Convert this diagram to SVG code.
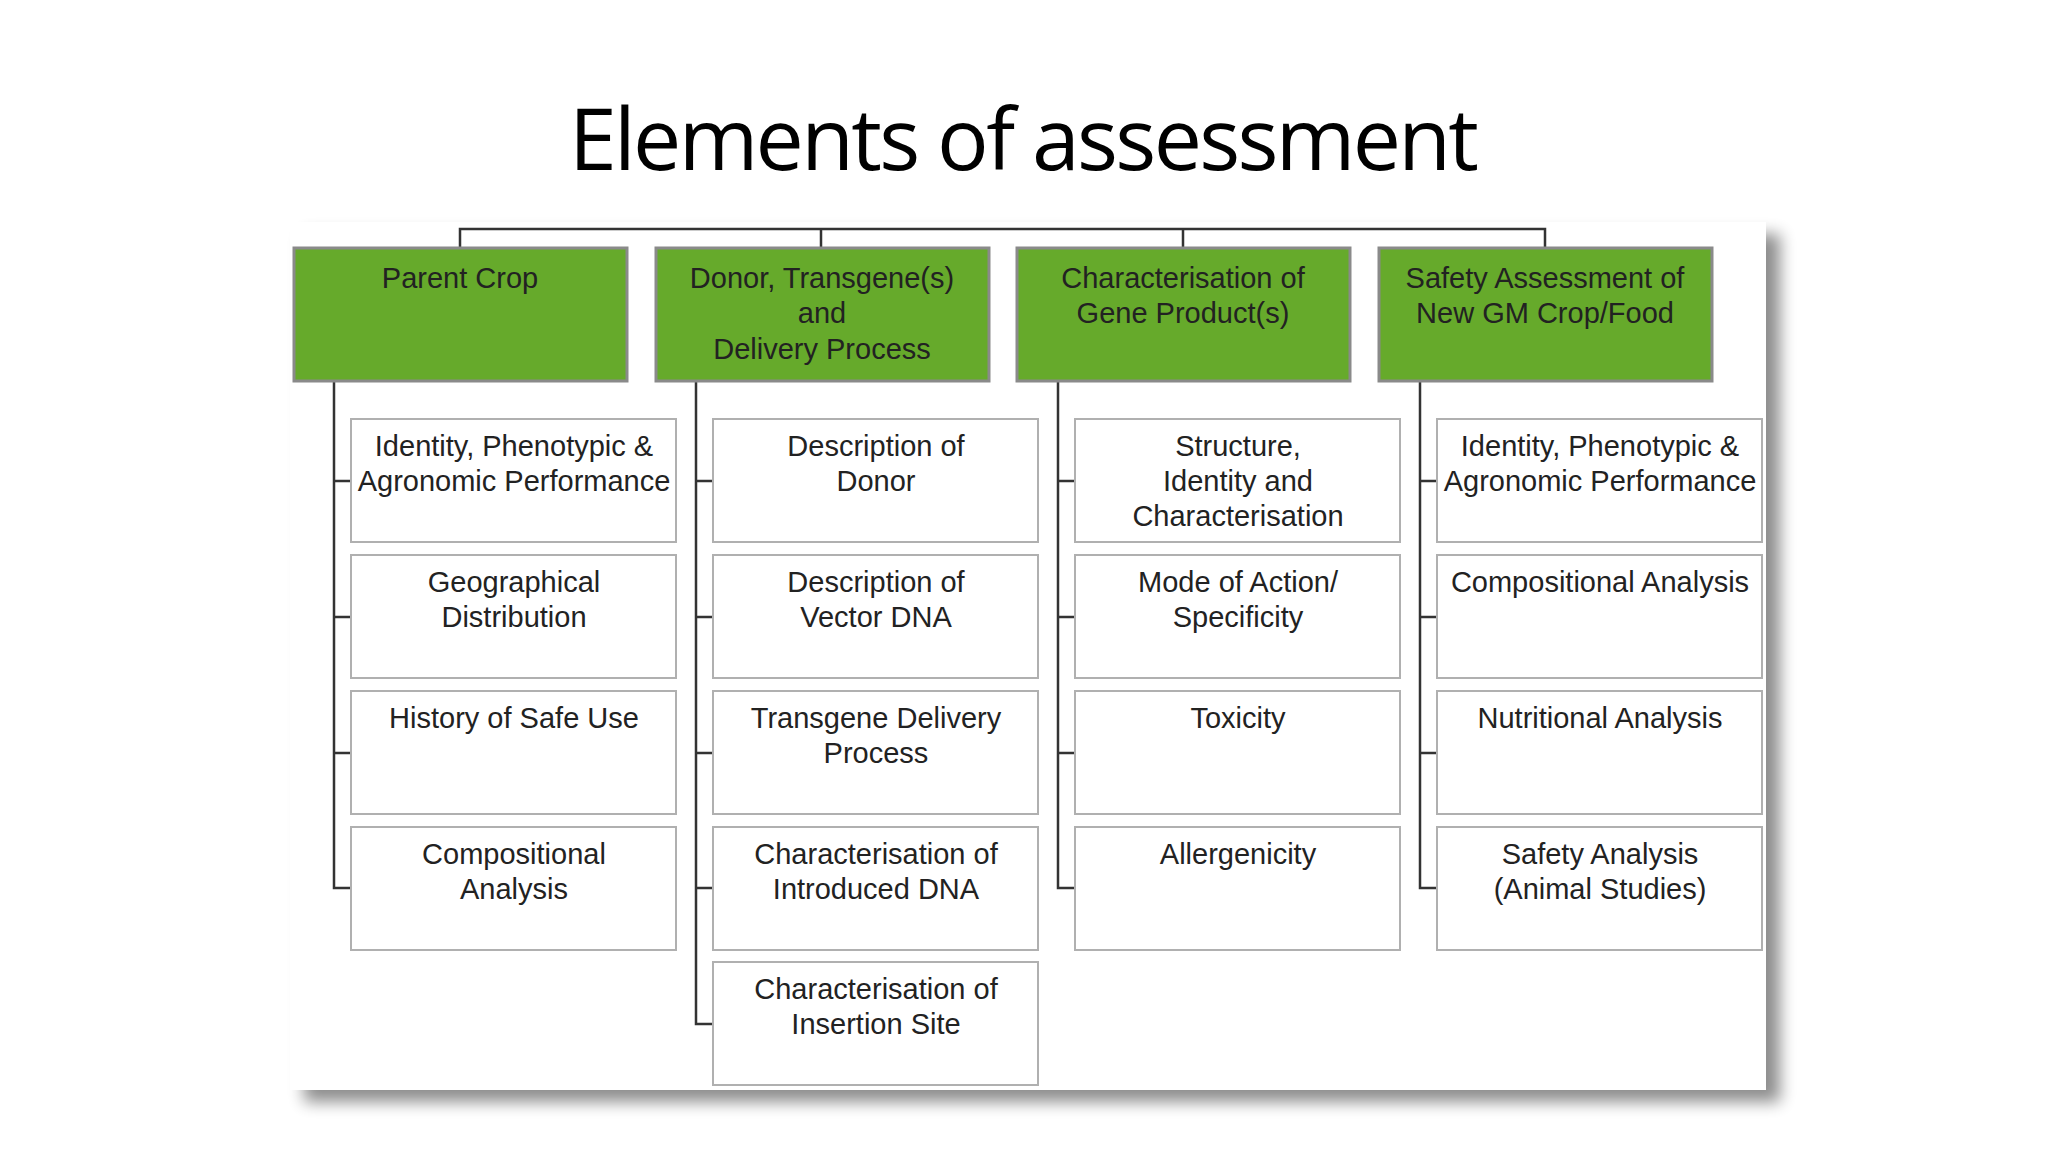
<svg xmlns="http://www.w3.org/2000/svg" width="2048" height="1152" viewBox="0 0 2048 1152">
<defs>
<filter id="sh" x="-5%" y="-5%" width="115%" height="115%"><feGaussianBlur in="SourceAlpha" stdDeviation="8"/><feOffset dx="14" dy="12"/><feComponentTransfer><feFuncA type="linear" slope="0.45"/></feComponentTransfer><feMerge><feMergeNode/><feMergeNode in="SourceGraphic"/></feMerge></filter>
</defs>
<style>
.g{fill:#66aa2b;stroke:#8a8a8a;stroke-width:3}
.c{fill:#fff;stroke:#b0b0b0;stroke-width:2}
.t{font-family:"Liberation Sans",Arial,sans-serif;font-size:29px;fill:#222;text-anchor:middle}
.l{stroke:#333;stroke-width:2.5;fill:none}
</style>
<rect width="2048" height="1152" fill="#fff"/>
<text x="1024" y="170" font-family="'Open Sans','Noto Sans',sans-serif" font-size="86" text-anchor="middle" fill="#000" textLength="910">Elements of assessment</text>
<rect x="290" y="222" width="1476" height="868" fill="#fff" filter="url(#sh)"/>
<g id="connectors" class="l">
<path d="M460 248V229H1545V248M821 229V248M1183 229V248"/>
<path d="M334 381V888H351M334 481H351M334 617H351M334 753H351"/>
<path d="M696 381V1024H713M696 481H713M696 617H713M696 753H713M696 888H713"/>
<path d="M1058 381V888H1075M1058 481H1075M1058 617H1075M1058 753H1075"/>
<path d="M1420 381V888H1437M1420 481H1437M1420 617H1437M1420 753H1437"/>
</g>
<g id="h1"><rect class="g" x="294" y="248" width="333" height="133"/><text class="t" x="460" y="288">Parent Crop</text></g>
<g id="h2"><rect class="g" x="656" y="248" width="333" height="133"/><text class="t" x="822" y="288">Donor, Transgene(s)</text><text class="t" x="822" y="323">and</text><text class="t" x="822" y="359">Delivery Process</text></g>
<g id="h3"><rect class="g" x="1017" y="248" width="333" height="133"/><text class="t" x="1183" y="288">Characterisation of</text><text class="t" x="1183" y="323">Gene Product(s)</text></g>
<g id="h4"><rect class="g" x="1379" y="248" width="333" height="133"/><text class="t" x="1545" y="288">Safety Assessment of</text><text class="t" x="1545" y="323">New GM Crop/Food</text></g>
<g id="a1"><rect class="c" x="351" y="419" width="325" height="123"/><text class="t" x="514" y="456">Identity, Phenotypic &amp;</text><text class="t" x="514" y="491">Agronomic Performance</text></g>
<g id="a2"><rect class="c" x="351" y="555" width="325" height="123"/><text class="t" x="514" y="592">Geographical</text><text class="t" x="514" y="627">Distribution</text></g>
<g id="a3"><rect class="c" x="351" y="691" width="325" height="123"/><text class="t" x="514" y="728">History of Safe Use</text></g>
<g id="a4"><rect class="c" x="351" y="827" width="325" height="123"/><text class="t" x="514" y="864">Compositional</text><text class="t" x="514" y="899">Analysis</text></g>
<g id="b1"><rect class="c" x="713" y="419" width="325" height="123"/><text class="t" x="876" y="456">Description of</text><text class="t" x="876" y="491">Donor</text></g>
<g id="b2"><rect class="c" x="713" y="555" width="325" height="123"/><text class="t" x="876" y="592">Description of</text><text class="t" x="876" y="627">Vector DNA</text></g>
<g id="b3"><rect class="c" x="713" y="691" width="325" height="123"/><text class="t" x="876" y="728">Transgene Delivery</text><text class="t" x="876" y="763">Process</text></g>
<g id="b4"><rect class="c" x="713" y="827" width="325" height="123"/><text class="t" x="876" y="864">Characterisation of</text><text class="t" x="876" y="899">Introduced DNA</text></g>
<g id="b5"><rect class="c" x="713" y="962" width="325" height="123"/><text class="t" x="876" y="999">Characterisation of</text><text class="t" x="876" y="1034">Insertion Site</text></g>
<g id="c1"><rect class="c" x="1075" y="419" width="325" height="123"/><text class="t" x="1238" y="456">Structure,</text><text class="t" x="1238" y="491">Identity and</text><text class="t" x="1238" y="526">Characterisation</text></g>
<g id="c2"><rect class="c" x="1075" y="555" width="325" height="123"/><text class="t" x="1238" y="592">Mode of Action/</text><text class="t" x="1238" y="627">Specificity</text></g>
<g id="c3"><rect class="c" x="1075" y="691" width="325" height="123"/><text class="t" x="1238" y="728">Toxicity</text></g>
<g id="c4"><rect class="c" x="1075" y="827" width="325" height="123"/><text class="t" x="1238" y="864">Allergenicity</text></g>
<g id="d1"><rect class="c" x="1437" y="419" width="325" height="123"/><text class="t" x="1600" y="456">Identity, Phenotypic &amp;</text><text class="t" x="1600" y="491">Agronomic Performance</text></g>
<g id="d2"><rect class="c" x="1437" y="555" width="325" height="123"/><text class="t" x="1600" y="592">Compositional Analysis</text></g>
<g id="d3"><rect class="c" x="1437" y="691" width="325" height="123"/><text class="t" x="1600" y="728">Nutritional Analysis</text></g>
<g id="d4"><rect class="c" x="1437" y="827" width="325" height="123"/><text class="t" x="1600" y="864">Safety Analysis</text><text class="t" x="1600" y="899">(Animal Studies)</text></g>
</svg>
